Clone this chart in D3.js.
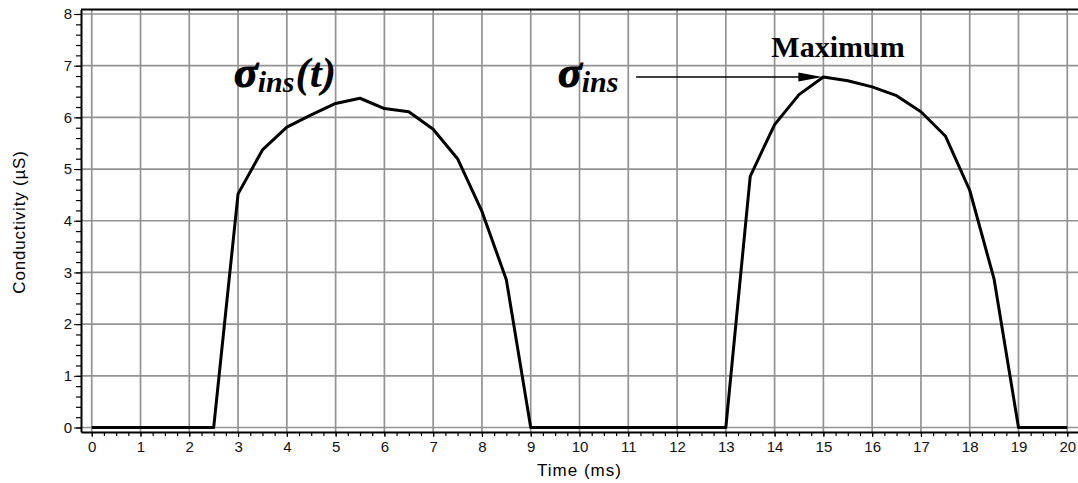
<!DOCTYPE html>
<html>
<head>
<meta charset="utf-8">
<script src="https://cdn.jsdelivr.net/npm/d3@7"></script>
<style>
  body { margin: 0; background: #fff; }
  svg { display: block; }
</style>
</head>
<body>
<div id="chart"></div>
<script>
// time in ms, conductivity in uS
const times = [0, 0.5, 1, 1.5, 2, 2.5, 3, 3.5, 4, 4.5, 5, 5.5, 6, 6.5, 7, 7.5, 8, 8.5, 9,
  9.5, 10, 10.5, 11, 11.5, 12, 12.5, 13, 13.5, 14, 14.5, 15, 15.5, 16, 16.5, 17, 17.5, 18, 18.5, 19, 19.5, 20]
const conductivity = [0, 0, 0, 0, 0, 0, 4.52, 5.37, 5.81, 6.05, 6.27, 6.37, 6.17, 6.11, 5.77, 5.2, 4.18, 2.86, 0,
  0, 0, 0, 0, 0, 0, 0, 0, 4.86, 5.86, 6.44, 6.78, 6.71, 6.59, 6.42, 6.11, 5.64, 4.59, 2.87, 0, 0, 0]
const xTicks = d3.range(0, 21, 1)
const yTicks = d3.range(0, 9, 1)

const width = 1078, height = 483
const svg = d3.select("#chart").append("svg")
  .attr("width", width)
  .attr("height", height)

const x = d3.scaleLinear().domain([-0.22, 20.22]).range([81, 1078])
const y = d3.scaleLinear().domain([-0.087, 8.087]).range([432, 9.5])

// grid
svg.append("g").selectAll("line").data(xTicks).join("line")
  .attr("x1", d => x(d)).attr("x2", d => x(d))
  .attr("y1", y.range()[0]).attr("y2", y.range()[1])
  .attr("stroke", "#939393").attr("stroke-width", 1.7)
svg.append("g").selectAll("line").data(yTicks).join("line")
  .attr("x1", x.range()[0]).attr("x2", x.range()[1])
  .attr("y1", d => y(d)).attr("y2", d => y(d))
  .attr("stroke", "#939393").attr("stroke-width", 1.7)

// minor ticks
const xMinor = d3.range(0, 20.01, 0.25)
const yMinor = d3.range(0, 8.01, 0.2)
svg.append("g").attr("transform", `translate(0,${y.range()[0]})`)
  .call(d3.axisBottom(x).tickValues(xMinor).tickSize(4).tickFormat(""))
  .call(g => g.select(".domain").remove())
  .call(g => g.selectAll("line").attr("stroke-width", 1.2))
svg.append("g").attr("transform", `translate(${x.range()[0]},0)`)
  .call(d3.axisLeft(y).tickValues(yMinor).tickSize(5).tickFormat(""))
  .call(g => g.select(".domain").remove())
  .call(g => g.selectAll("line").attr("stroke-width", 1.2))

// major axes
const xAxis = svg.append("g").attr("transform", `translate(0,${y.range()[0]})`)
  .call(d3.axisBottom(x).tickValues(xTicks).tickSize(5).tickSizeOuter(0).tickPadding(4))
xAxis.select(".domain").attr("stroke-width", 2)
xAxis.selectAll("text").style("font-family", "Liberation Sans, Arial, sans-serif")
  .style("font-size", "15px").attr("fill", "#111")

const yAxis = svg.append("g").attr("transform", `translate(${x.range()[0]},0)`)
  .call(d3.axisLeft(y).tickValues(yTicks).tickSize(7).tickSizeOuter(0).tickPadding(2))
yAxis.select(".domain").attr("stroke-width", 2)
yAxis.selectAll("text").style("font-family", "Liberation Sans, Arial, sans-serif")
  .style("font-size", "15px").attr("fill", "#111")

// top frame
svg.append("line")
  .attr("x1", x.range()[0]).attr("x2", x.range()[1])
  .attr("y1", y.range()[1]).attr("y2", y.range()[1])
  .attr("stroke", "#000").attr("stroke-width", 2)

// axis titles
svg.append("text")
  .text("Time (ms)")
  .attr("x", (x(0) + x(20)) / 2).attr("y", 476)
  .attr("text-anchor", "middle")
  .style("font-family", "Liberation Sans, Arial, sans-serif")
  .style("font-size", "17px")
  .style("letter-spacing", "1px")

svg.append("text")
  .text("Conductivity (µS)")
  .attr("transform", "translate(25,222) rotate(-90)")
  .attr("text-anchor", "middle")
  .style("font-family", "Liberation Sans, Arial, sans-serif")
  .style("font-size", "17px")
  .style("letter-spacing", "0.8px")

// the curve
const line = d3.line().x((d, i) => x(times[i])).y(d => y(d))
svg.append("path")
  .datum(conductivity)
  .attr("d", line)
  .attr("fill", "none")
  .attr("stroke", "#000")
  .attr("stroke-width", 3)
  .attr("stroke-linejoin", "round")

// annotations
const serif = "Liberation Serif, Times New Roman, serif"

function sigmaLabel(px, py, withT) {
  const t = svg.append("text")
    .attr("x", px).attr("y", py)
    .style("font-family", serif)
    .style("font-weight", "bold")
    .style("font-style", "italic")
  t.append("tspan").text("σ").style("font-size", "44px")
    .attr("stroke", "#000").attr("stroke-width", 1.2)
  t.append("tspan").text("ins").attr("dy", 5).style("font-size", "30px")
  if (withT) t.append("tspan").text("(t)").attr("dy", -5).attr("dx", 1).style("font-size", "43px")
}
sigmaLabel(234, 87, true)
sigmaLabel(558, 87, false)

svg.append("text")
  .text("Maximum")
  .attr("x", 838).attr("y", 57)
  .attr("text-anchor", "middle")
  .style("font-family", serif)
  .style("font-weight", "bold")
  .style("font-size", "30px")

const peakIndex = d3.maxIndex(conductivity)
const tipX = x(times[peakIndex]) - 1
const tipY = y(conductivity[peakIndex])
svg.append("line")
  .attr("x1", x(11.16)).attr("x2", tipX - 18)
  .attr("y1", tipY).attr("y2", tipY)
  .attr("stroke", "#000").attr("stroke-width", 1.4)
svg.append("path")
  .attr("d", `M${tipX},${tipY} L${tipX - 24},${tipY - 4.5} L${tipX - 24},${tipY + 4.5} Z`)
  .attr("fill", "#000")
</script>
</body>
</html>
